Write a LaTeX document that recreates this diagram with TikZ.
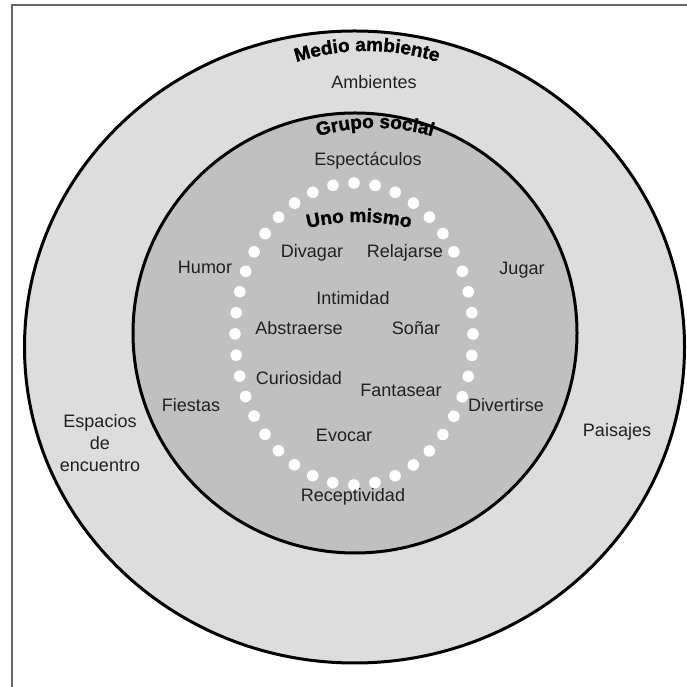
\documentclass[tikz,border=0pt]{standalone}
\usepackage{fontspec}
\setmainfont{Liberation Sans}
\newfontfamily\arcfamily[FakeBold=1.3]{Liberation Sans}
\usetikzlibrary{decorations.text,decorations.markings}

\definecolor{outergray}{gray}{0.865}
\definecolor{innergray}{gray}{0.753}
\definecolor{framegray}{gray}{0.4}
\definecolor{labelgray}{gray}{0.13}
\newcommand{\lblfont}{\fontsize{18}{22}\selectfont}
\newcommand{\arcfont}{\fontsize{19}{22}\arcfamily\bfseries}

\tikzset{
  lbl/.style={font=\lblfont, text=labelgray, inner sep=0pt,
    text height=12.6pt, text depth=3.8pt},
  ring/.style={draw=black, line width=3pt},
  arclabel/.style={decorate, decoration={text along path,
    text align=center, text={|\arcfont|#1}}}
}

\begin{document}
\begin{tikzpicture}[x=1pt,y=1pt]
\useasboundingbox (0,0) rectangle (687,687);
% frame
\draw[framegray, line width=2pt] (12,0) -- (12,681.5) -- (687,681.5);

% medio ambiente, grupo social
\coordinate (medio) at (354.5,340);
\coordinate (grupo) at (355,354);
\coordinate (uno) at (354,353);
\filldraw[ring, fill=outergray] (medio) ellipse [x radius=330, y radius=316];
\filldraw[ring, fill=innergray] (grupo) ellipse [x radius=222, y radius=220];

% uno mismo: white dots
\path[decorate, decoration={markings,
  mark=between positions 0 and 0.99 step 0.025 with {\fill[white] (0,0) circle [radius=5.8pt];}}]
  (uno) ellipse [x radius=119, y radius=151];

% curved titles
\path[arclabel={Medio ambiente}] (367,406) ++(140:230pt) arc[start angle=140, end angle=40, radius=230pt];
\path[arclabel={Grupo social}] (375,359) ++(140:200pt) arc[start angle=140, end angle=40, radius=200pt];
\path[arclabel={Uno mismo}] (359,245) ++(140:220pt) arc[start angle=140, end angle=40, radius=220pt];

% outer ring
\node[lbl] (ambientes) at (374,603) {Ambientes};
\node[font=\lblfont, text=labelgray, align=center, inner sep=0pt] (espacios) at (100,244) {Espacios\\de\\encuentro};
\node[lbl] (paisajes) at (617,255) {Paisajes};

% inner ring
\node[lbl] (espectaculos) at (368,526) {Espectáculos};
\node[lbl] (humor) at (205,418) {Humor};
\node[lbl] (jugar) at (522,417) {Jugar};
\node[lbl] (fiestas) at (191,280) {Fiestas};
\node[lbl] (divertirse) at (506,280) {Divertirse};
\node[lbl] (receptividad) at (353,190) {Receptividad};

% inside the dots
\node[lbl] (divagar) at (312,434) {Divagar};
\node[lbl] (relajarse) at (405,434) {Relajarse};
\node[lbl] (intimidad) at (353,387) {Intimidad};
\node[lbl] (abstraerse) at (299,357) {Abstraerse};
\node[lbl] (sonar) at (416,357) {Soñar};
\node[lbl] (curiosidad) at (299,307) {Curiosidad};
\node[lbl] (fantasear) at (401,295) {Fantasear};
\node[lbl] (evocar) at (344,250) {Evocar};
\end{tikzpicture}
\end{document}
